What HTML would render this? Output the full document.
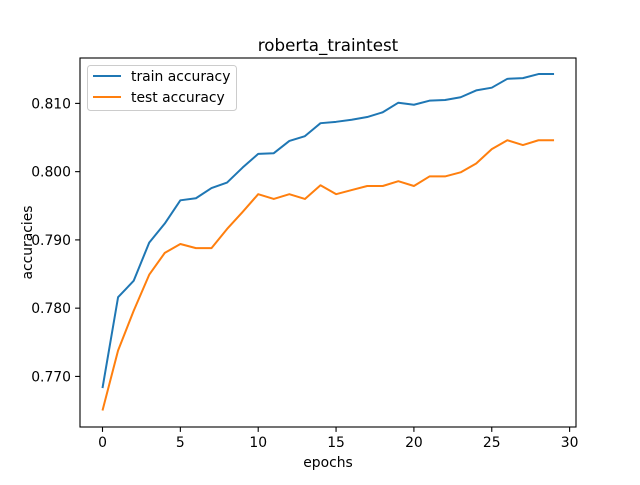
<!DOCTYPE html>
<html><head><meta charset="utf-8"><style>
body{margin:0;background:#fff;font-family:"Liberation Sans","DejaVu Sans",sans-serif}
svg text{font-family:"DejaVu Sans","Liberation Sans",sans-serif}
</style></head><body>
<svg id="c" width="640" height="480" xmlns="http://www.w3.org/2000/svg">
<rect width="640" height="480" fill="#fff"/>
</svg>
<script>
const epochs=[0,1,2,3,4,5,6,7,8,9,10,11,12,13,14,15,16,17,18,19,20,21,22,23,24,25,26,27,28,29];
const trainAcc=[0.7683,0.7816,0.7840,0.7896,0.7924,0.7958,0.7961,0.7976,0.7984,0.8006,0.8026,0.8027,0.8045,0.8052,0.8071,0.8073,0.8076,0.8080,0.8087,0.8101,0.8098,0.8104,0.8105,0.8109,0.8119,0.8123,0.8136,0.8137,0.8143,0.8143];
const testAcc=[0.7650,0.7738,0.7796,0.7849,0.7881,0.7894,0.7888,0.7888,0.7916,0.7941,0.7967,0.7960,0.7967,0.7960,0.7980,0.7967,0.7973,0.7979,0.7979,0.7986,0.7979,0.7993,0.7993,0.7999,0.8012,0.8033,0.8046,0.8039,0.8046,0.8046];
const xTicks=[0,5,10,15,20,25,30];
const yTicks=[0.77,0.78,0.79,0.80,0.81];
const yTickLabels=["0.770","0.780","0.790","0.800","0.810"];
const L=80,R=576,T=58,B=427;
const xmin=-1.445,xmax=30.41,ymin=0.76259,ymax=0.81665;
const X=v=>L+(v-xmin)/(xmax-xmin)*(R-L);
const Y=v=>B-(v-ymin)/(ymax-ymin)*(B-T);
const svg=document.getElementById('c');
const NS='http://www.w3.org/2000/svg';
function mk(tag,attrs,parent){const e=document.createElementNS(NS,tag);for(const k in attrs)e.setAttribute(k,attrs[k]);(parent||svg).appendChild(e);return e;}
xTicks.forEach(t=>{
  const l=mk('line',{x1:X(t),x2:X(t),y1:B,y2:B+4.9,stroke:'#000','stroke-width':1.1});
  
  
  const tx=mk('text',{x:X(t),y:B+20,'text-anchor':'middle','font-size':13.9});
  tx.textContent=t;
  
  
});
yTicks.forEach((t,i)=>{
  const l=mk('line',{x1:L-4.9,x2:L,y1:Y(t),y2:Y(t),stroke:'#000','stroke-width':1.1});
  
  
  const tx=mk('text',{x:L-9,y:Y(t)+5,'text-anchor':'end','font-size':13.9});
  tx.textContent=yTickLabels[i];
  
  
});
function line(data,color,name){
  const p=mk('polyline',{points:data.map((v,i)=>X(epochs[i])+','+Y(v)).join(' '),fill:'none',stroke:color,'stroke-width':2,'stroke-linejoin':'round'});
  
  
}
line(trainAcc,'#1f77b4','train-accuracy-line');
line(testAcc,'#ff7f0e','test-accuracy-line');
const fr=mk('rect',{x:L,y:T,width:R-L,height:B-T,fill:'none',stroke:'#000','stroke-width':1.1});


const ti=mk('text',{x:(L+R)/2,y:T-7,'text-anchor':'middle','font-size':16.7});
ti.textContent='roberta_traintest';


const xl=mk('text',{x:(L+R)/2,y:467,'text-anchor':'middle','font-size':13.9});
xl.textContent='epochs';


const yl=mk('text',{x:0,y:0,'text-anchor':'middle','font-size':13.9,transform:'translate(32,'+((T+B)/2)+') rotate(-90)'});
yl.textContent='accuracies';


const lg=mk('g',{});


mk('rect',{x:87.5,y:65.5,width:149,height:45,rx:3,fill:'#fff',stroke:'#ccc','stroke-width':1},lg);
[['train accuracy','#1f77b4',76],['test accuracy','#ff7f0e',97]].forEach(([n,c,y])=>{
  const e=mk('g',{},lg);
  
  
  mk('line',{x1:93,x2:121,y1:y,y2:y,stroke:c,'stroke-width':2},e);
  const t=mk('text',{x:131,y:y+5,'font-size':13.9},e);t.textContent=n;
});
</script>
</body></html>
